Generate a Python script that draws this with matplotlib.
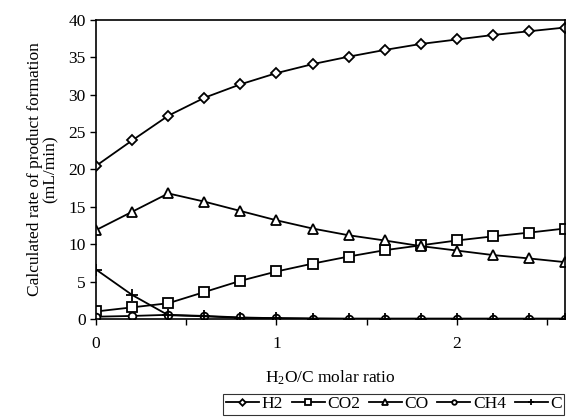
import matplotlib.pyplot as plt

plt.rcParams['font.family'] = ['Liberation Serif', 'DejaVu Serif']
plt.rcParams['mathtext.fontset'] = 'custom'
plt.rcParams['mathtext.rm'] = 'Liberation Serif'
plt.rcParams['mathtext.it'] = 'Liberation Serif:italic'

# H2O/C molar ratio
ratio = [0.0, 0.2, 0.4, 0.6, 0.8, 1.0, 1.2, 1.4, 1.6, 1.8, 2.0, 2.2, 2.4, 2.6]

# calculated rates (mL/min)
h2 = [20.5, 23.9, 27.2, 29.6, 31.4, 32.9, 34.1, 35.1, 36.0, 36.8, 37.4, 38.0, 38.5, 39.0]
co2 = [1.0, 1.55, 2.1, 3.6, 5.1, 6.35, 7.4, 8.35, 9.2, 9.85, 10.5, 11.05, 11.55, 12.1]
co = [11.9, 14.35, 16.8, 15.7, 14.45, 13.2, 12.1, 11.2, 10.5, 9.75, 9.15, 8.55, 8.1, 7.6]
ch4 = [0.3, 0.4, 0.55, 0.4, 0.2, 0.1, 0.05, 0.05, 0.05, 0.05, 0.05, 0.05, 0.05, 0.05]
carbon = [6.6, 3.2, 0.5, 0.35, 0.15, 0.1, 0.05, 0.0, 0.0, 0.0, 0.0, 0.0, 0.0, 0.0]

series = [
    (h2, 'D', 'H2', 5.5),
    (co2, 's', 'CO2', 6.5),
    (co, '^', 'CO', 6.5),
    (ch4, 'o', 'CH4', 5.5),
    (carbon, '+', 'C', 8),
]

fig = plt.figure(figsize=(5.69, 4.18), dpi=100)
ax = fig.add_axes([0.169, 0.237, 0.824, 0.715])

for values, marker, name, size in series:
    ax.plot(ratio, values, color='black', linewidth=1.3, marker=marker,
            markersize=size, markerfacecolor='white', markeredgecolor='black',
            markeredgewidth=1.3, label=name)

ax.set_xlim(0, 2.6)
ax.set_ylim(0, 40)
ax.set_yticks(range(0, 41, 5))
ax.set_xticks([0, 1, 2])
ax.set_xticks([0.5, 1.5, 2.5], minor=True)
ax.tick_params(axis='both', which='major', labelsize=12.5, length=4, width=1, direction='out')
ax.tick_params(axis='x', which='minor', length=4, width=1, direction='out')
ax.tick_params(axis='x', pad=8)
for s in ax.spines.values():
    s.set_linewidth(1.2)

ax.set_xlabel('H$_2$O/C molar ratio', fontsize=12.5, labelpad=12)
ax.set_ylabel('Calculated rate of product formation\n(mL/min)', fontsize=12.5,
              linespacing=1.0, labelpad=7)

handles, labels = ax.get_legend_handles_labels()
leg = fig.legend(handles, labels, loc='lower right', bbox_to_anchor=(0.995, 0.003),
                 borderaxespad=0.1, ncol=5, fontsize=12.5, frameon=True,
                 fancybox=False, edgecolor='black', handlelength=1.9,
                 handletextpad=0.15, columnspacing=0.5, borderpad=0.15,
                 markerscale=0.6)
leg.get_frame().set_linewidth(0.8)

plt.savefig('out.png', dpi=100)
